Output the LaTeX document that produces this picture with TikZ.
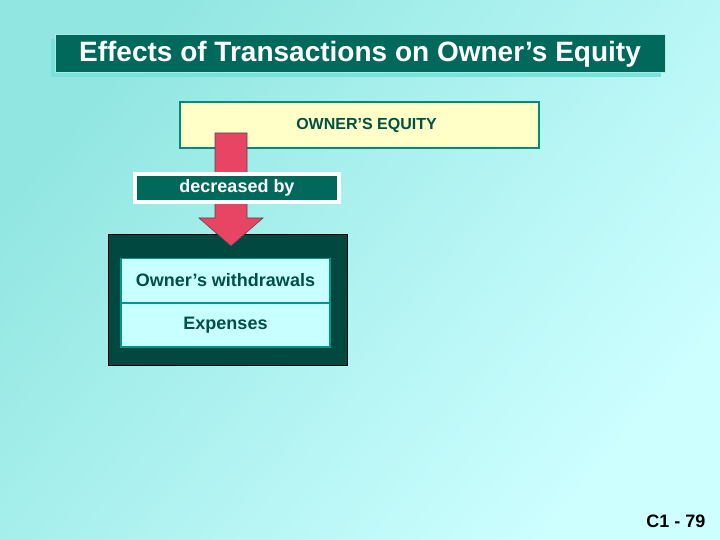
\documentclass[tikz,border=0pt]{standalone}
\usepackage{fontspec}
\setmainfont{Liberation Sans}
\usepackage{tikz}
\usetikzlibrary{positioning, calc, shadows}

\definecolor{bgdark}{RGB}{145,230,226}
\definecolor{bglight}{RGB}{205,255,255}
\definecolor{titleteal}{RGB}{0,105,92}
\definecolor{titleedge}{RGB}{170,235,230}
\definecolor{shadowcyan}{RGB}{120,225,220}
\definecolor{boxdark}{RGB}{0,72,64}
\definecolor{eqfill}{RGB}{255,255,200}
\definecolor{eqedge}{RGB}{0,140,120}
\definecolor{textteal}{RGB}{0,80,70}
\definecolor{arrowred}{RGB}{232,68,100}
\definecolor{cellfill}{RGB}{200,255,255}
\definecolor{celledge}{RGB}{0,150,140}

\begin{document}
\begin{tikzpicture}[x=1pt, y=-1pt, font=\bfseries,
    title box/.style={rectangle, fill=titleteal, draw=titleedge, line width=1pt, text=white, minimum width=610pt, minimum height=38pt, font=\fontsize{28}{30}\selectfont\bfseries},
    equity box/.style={rectangle, fill=eqfill, draw=eqedge, line width=1.2pt, text=textteal, minimum width=359pt, minimum height=46pt, font=\fontsize{16}{18}\selectfont\bfseries},
    label box/.style={rectangle, fill=titleteal, draw=white, line width=4pt, text=white, minimum width=204pt, minimum height=28pt, font=\fontsize{18}{20}\selectfont\bfseries},
    cell/.style={rectangle, fill=cellfill, draw=celledge, line width=1.2pt, text=textteal, minimum width=209pt, minimum height=43.5pt, font=\fontsize{18}{20}\selectfont\bfseries}]
    % background
    \shade[top color=bgdark, bottom color=bglight, shading angle=50] (0,0) rectangle (720,540);
    \useasboundingbox (0,0) rectangle (720,540);
    \node[title box, drop shadow={shadow xshift=-4pt, shadow yshift=-4pt, fill=shadowcyan, opacity=1}] (title) at (360,54) {Effects of Transactions on Owner’s Equity};
    \node[equity box] (equity) at (359.5,125) {\hspace*{14pt}OWNER’S EQUITY};
    \node[rectangle, fill=boxdark, draw=black, line width=0.6pt, minimum width=239pt, minimum height=131pt] (outer) at (227.5,299.5) {};
    \node[cell] (withdraw) at (225.5,280.5) {Owner’s withdrawals};
    \node[cell, below=0pt of withdraw] (expenses) {Expenses}; % second row directly under the first
    % red arrow from equity down to the box
    \coordinate (arrtop) at (231,133);
    \coordinate (arrtip) at (231,246);
    \filldraw[fill=arrowred, draw=black!70, line width=0.6pt]
        ($(arrtop)+(-16,0)$) -- ($(arrtop)+(16,0)$) -- ($(arrtip)+(16,-28)$) -- ($(arrtip)+(32,-28)$)
        -- (arrtip) -- ($(arrtip)+(-32,-28)$) -- ($(arrtip)+(-16,-28)$) -- cycle;
    \node[label box] (decr) at (237,188) {decreased by};
    \node[anchor=east, font=\fontsize{18}{20}\selectfont\bfseries] (page) at (709,521) {C1 - 79};
\end{tikzpicture}
\end{document}
